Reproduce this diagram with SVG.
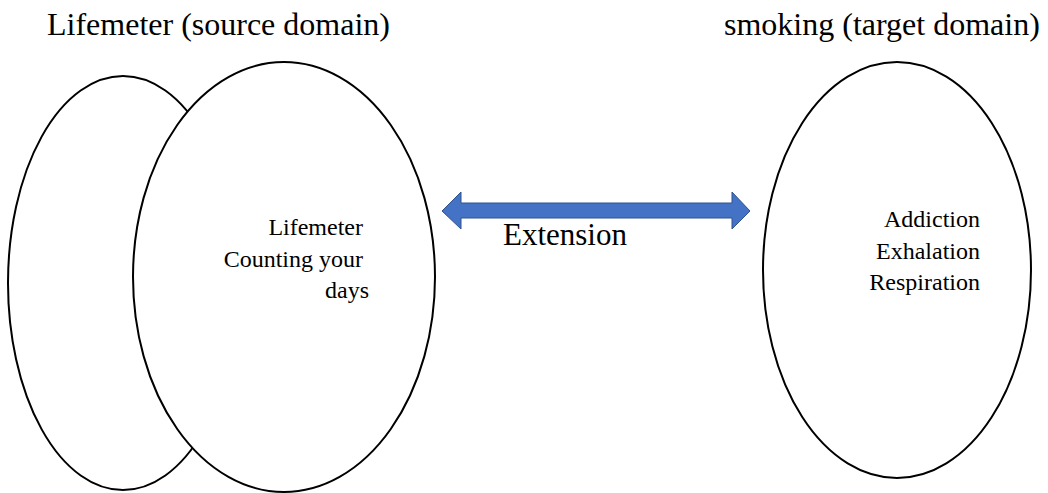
<svg xmlns="http://www.w3.org/2000/svg" width="1048" height="493" viewBox="0 0 1048 493">
<style>
.t{font-family:"Liberation Serif","Times New Roman",serif;fill:#000}
.title{font-size:32px}
.inner{font-size:24px;text-anchor:end}
.ell{fill:#fff;stroke:#000;stroke-width:2}
.arrow{fill:#4472C4;stroke:#2F528F;stroke-width:1}
</style>
<rect width="1048" height="493" fill="#fff"/>
<text class="t title" x="47" y="35">Lifemeter (source domain)</text>
<text class="t title" x="724" y="35">smoking (target domain)</text>
<g id="source-back">
<ellipse class="ell" cx="123" cy="283" rx="115" ry="207"/>
</g>
<g id="source-front">
<ellipse class="ell" cx="284" cy="277" rx="151" ry="215"/>
<text class="t inner" x="363" y="235">Lifemeter</text>
<text class="t inner" x="363" y="267">Counting your</text>
<text class="t inner" x="369" y="298">days</text>
</g>
<g id="target">
<ellipse class="ell" cx="897" cy="270" rx="134" ry="208"/>
<text class="t inner" x="980" y="227">Addiction</text>
<text class="t inner" x="980" y="259">Exhalation</text>
<text class="t inner" x="980" y="290">Respiration</text>
</g>
<g id="connectors">
<polygon class="arrow" points="442,211 461,192 461,203 732,203 732,192 750,211 732,229 732,218 461,218 461,229"/>
<text class="t" x="503" y="245" font-size="31">Extension</text>
</g>
</svg>
